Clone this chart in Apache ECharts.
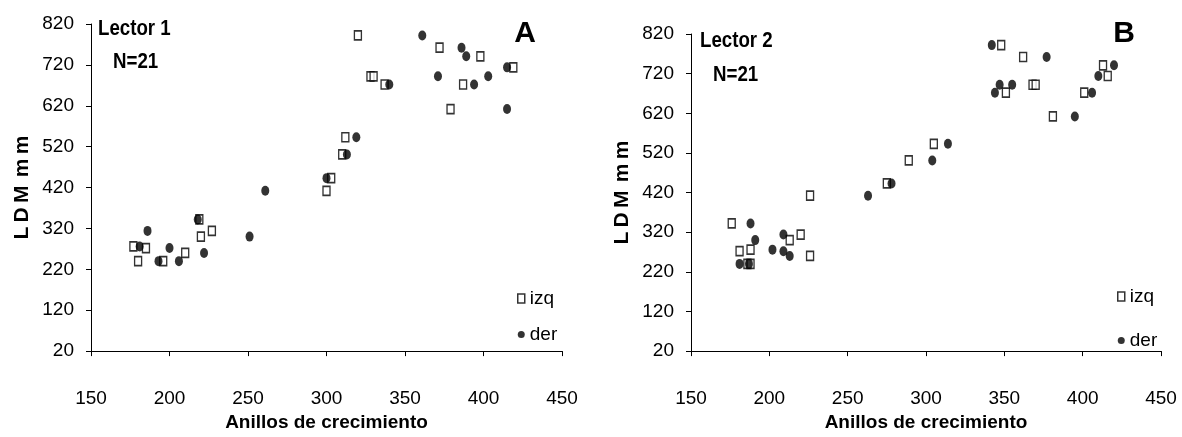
<!DOCTYPE html>
<html>
<head>
<meta charset="utf-8">
<script src="https://cdn.jsdelivr.net/npm/echarts@6/dist/echarts.min.js"></script>
<style>
  html, body { margin: 0; padding: 0; background: #fff; }
  #chart { width: 1182px; height: 437px; }
</style>
</head>
<body>
<div id="chart"></div>
<script>
// Longitud (LDM, mm) frente a número de anillos de crecimiento, por lector y lado
const xTicks = [150, 200, 250, 300, 350, 400, 450];
const yTicks = [20, 120, 220, 320, 420, 520, 620, 720, 820];

// Lector 1: [anillos, LDM]
const lector1Izq = [[177,276],[180,240],[185,272],[196,240],[210,260],[219,342],[220,300],[227,314],
  [300,412],[303,443],[310,501],[312,543],[320,792],[328,692],[330,692],[337,672],[372,762],
  [379,612],[387,672],[398,741],[419,714]];
const lector1Der = [[181,276],[186,314],[193,240],[200,272],[206,240],[218,342],[222,260],[251,300],
  [261,412],[300,443],[313,501],[319,543],[340,672],[361,792],[371,692],[386,762],[389,741],
  [394,672],[403,692],[415,714],[415,612]];

// Lector 2: [anillos, LDM]
const lector2Izq = [[176,342],[181,272],[186,240],[188,240],[188,276],[213,300],[220,314],[226,260],
  [226,412],[275,443],[289,501],[305,543],[348,792],[351,672],[362,762],[368,692],[370,692],
  [381,612],[401,672],[413,741],[416,714]];
const lector2Der = [[181,240],[187,240],[188,342],[191,300],[202,276],[209,272],[209,314],[213,260],
  [263,412],[278,443],[304,501],[314,543],[342,792],[344,672],[347,692],[355,692],[377,762],
  [395,612],[406,672],[410,714],[420,741]];

const SANS = '"Liberation Sans", Arial, sans-serif';
const ELLIPSE = 'path://M0,10a10,10 0 1,0 20,0a10,10 0 1,0 -20,0Z';

const grids = [
  { left: 91, top: 24, width: 471, height: 338 },
  { left: 691, top: 34, width: 470, height: 330 }
];

function xAxisFor(i) {
  return {
    type: 'value', gridIndex: i, min: xTicks[0], max: xTicks[xTicks.length - 1], interval: 50,
    name: 'Anillos de crecimiento', nameLocation: 'middle', nameGap: 56,
    nameTextStyle: { fontFamily: SANS, fontWeight: 'bold', fontSize: 19, color: '#000' },
    axisLine: { onZero: false, lineStyle: { color: '#000', width: 1 } },
    axisTick: { show: true, length: 5, lineStyle: { color: '#000' } },
    axisLabel: { margin: 38, fontSize: 19, fontFamily: SANS, color: '#000' },
    splitLine: { show: false }
  };
}
function yAxisFor(i) {
  return {
    type: 'value', gridIndex: i, min: yTicks[0], max: yTicks[yTicks.length - 1],
    name: 'L\u2009D\u2009M\u2009\u2009m\u2009m', nameLocation: 'middle', nameGap: 58,
    nameTextStyle: { fontFamily: SANS, fontWeight: 'bold', fontSize: 21, color: '#000' },
    axisLine: { show: true, onZero: false, lineStyle: { color: '#000', width: 1 } },
    axisTick: { show: true, length: 5, customValues: yTicks, lineStyle: { color: '#000' } },
    axisLabel: { margin: 17, fontSize: 19, fontFamily: SANS, color: '#000', customValues: yTicks },
    splitLine: { show: false }
  };
}

const squareStyle = { color: '#fff', borderColor: '#000', borderWidth: 1.5 };
const dotStyle = { color: '#000' };

function squares(data, i) {
  return { type: 'scatter', name: 'izq', xAxisIndex: i, yAxisIndex: i, data: data,
    symbol: 'rect', symbolSize: [7, 9], itemStyle: squareStyle, z: 2 };
}
function dots(data, i) {
  return { type: 'scatter', name: 'der', xAxisIndex: i, yAxisIndex: i, data: data,
    symbol: ELLIPSE, symbolSize: [8, 10], itemStyle: dotStyle, z: 3 };
}
function legendAt(left, top, gap) {
  return {
    orient: 'vertical', left: left, top: top, itemWidth: 7, itemHeight: 9, itemGap: gap,
    selectedMode: false,
    textStyle: { fontSize: 19, fontFamily: SANS, color: '#000' },
    data: [
      { name: 'izq', icon: 'rect', itemStyle: squareStyle },
      { name: 'der', icon: ELLIPSE, itemStyle: dotStyle }
    ]
  };
}
// Narrowed bold captions inside the plots
function caption(x, y, text, size, sx) {
  return { type: 'text', x: x, y: y, scaleX: sx, silent: true,
    style: { text: text, font: 'bold ' + size + 'px ' + SANS, fill: '#000', align: 'left', verticalAlign: 'middle' } };
}
function panelLetter(x, y, text) {
  return { type: 'text', x: x, y: y, silent: true,
    style: { text: text, font: 'bold 30px ' + SANS, fill: '#000', align: 'center', verticalAlign: 'middle' } };
}

const chart = echarts.init(document.getElementById('chart'), null, { renderer: 'canvas' });
chart.setOption({
  animation: false,
  backgroundColor: '#fff',
  grid: grids,
  xAxis: [xAxisFor(0), xAxisFor(1)],
  yAxis: [yAxisFor(0), yAxisFor(1)],
  legend: [legendAt(512, 284, 17), legendAt(1112, 282, 25)],
  series: [
    squares(lector1Izq, 0), dots(lector1Der, 0),
    squares(lector2Izq, 1), dots(lector2Der, 1)
  ],
  graphic: [
    caption(98, 29, 'Lector 1', 22, 0.85),
    caption(113, 62, 'N=21', 22, 0.85),
    panelLetter(525, 34, 'A'),
    caption(700, 41, 'Lector 2', 22, 0.85),
    caption(713, 75, 'N=21', 22, 0.85),
    panelLetter(1124, 34, 'B')
  ]
});
</script>
</body>
</html>
